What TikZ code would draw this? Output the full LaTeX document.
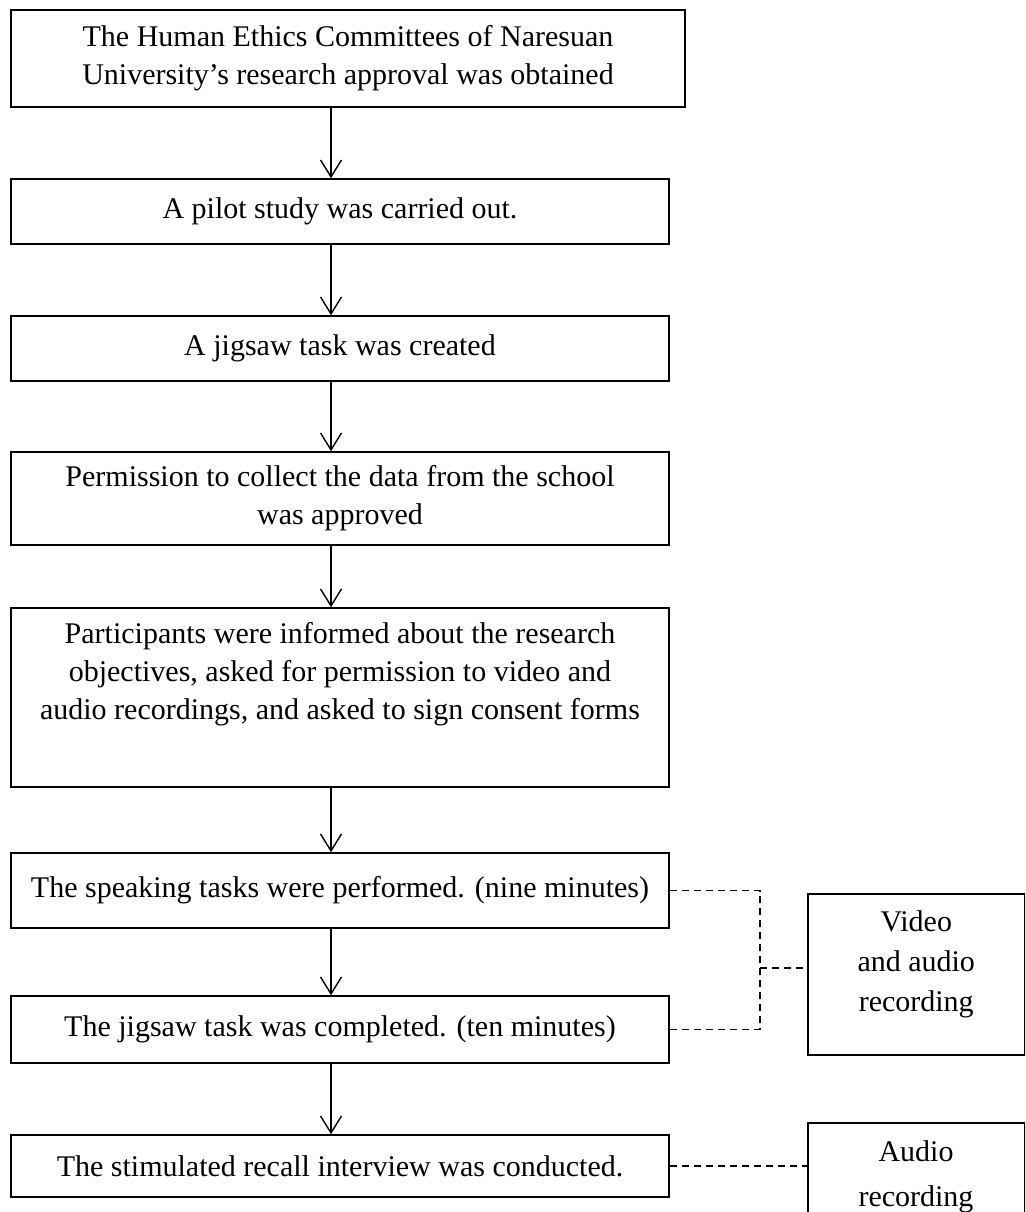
\documentclass[tikz,border=0pt]{standalone}
\usepackage{fontspec}
\setmainfont{Liberation Serif}
\usetikzlibrary{arrows.meta,calc}
\begin{document}
\begin{tikzpicture}[x=1pt,y=-1pt,
  box/.style={draw,line width=1.5pt,align=center,inner sep=0pt,font=\fontsize{30}{38}\selectfont},
  flow/.style={line width=1.4pt,-{Straight Barb[length=17pt,width=21pt,line width=1.4pt]}},
  link/.style={line width=1.2pt,dash pattern=on 7pt off 5pt}]
\useasboundingbox (0,0) rectangle (1025,1212);
\clip (0,0) rectangle (1025,1212);
\node[box,minimum width=674,minimum height=97] (b1) at (348,58.5) {The Human Ethics Committees of Naresuan\\University's research approval was obtained};
\node[box,minimum width=658,minimum height=65] (b2) at (340,211.5) {A pilot study was carried out.};
\node[box,minimum width=658,minimum height=65] (b3) at (340,348.5) {A jigsaw task was created};
\node[box,minimum width=658,minimum height=93] (b4) at (340,498.5) {Permission to collect the data from the school\\was approved};
\node[box,minimum width=658,minimum height=179] (b5) at (340,697.5) {Participants were informed about the research\\objectives, asked for permission to video and\\audio recordings, and asked to sign consent forms\\[4pt]\strut};
\node[box,minimum width=658,minimum height=75] (b6) at (340,890.5) {The speaking tasks were performed. (nine minutes)};
\node[box,minimum width=658,minimum height=67] (b7) at (340,1029.5) {The jigsaw task was completed. (ten minutes)};
\node[box,minimum width=658,minimum height=62] (b8) at (340,1166) {The stimulated recall interview was conducted.};
\node[box,minimum width=217,minimum height=161,anchor=north west] (r1) at (807,893) {};
\node[font=\fontsize{30}{40}\selectfont,align=center] (r1t) at (r1.center) [yshift=10pt] {Video\\and audio\\recording};
\node[box,minimum width=217,minimum height=130,anchor=north west] (r2) at (807,1122) {};
\node[font=\fontsize{30}{45}\selectfont,align=center,anchor=north] (r2t) at (916,1137) {Audio\\recording};
\coordinate (ax) at (331,0);
\foreach \a/\b in {b1/b2,b2/b3,b3/b4,b4/b5,b5/b6,b6/b7,b7/b8}
  \draw[flow] (\a.south -| ax) -- (\b.north -| ax);
\coordinate (jx) at (760,0);
\draw[link] (b6.east) -- (b6.east -| jx) -- (b7.east -| jx) -- (b7.east);
\coordinate (jm) at (760,968);
\draw[link] (jm) -- (jm -| r1.west);
\draw[link] (b8.east) -- (b8.east -| r2.west);
\end{tikzpicture}
\end{document}
